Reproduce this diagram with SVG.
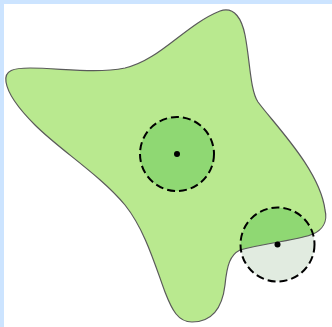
<svg xmlns="http://www.w3.org/2000/svg" width="332" height="327" viewBox="0 0 332 327">
<style>
.zone{fill:none;stroke:#000;stroke-width:2;stroke-dasharray:8,4}
.dot{fill:#000}
</style>
<defs>
<path id="blob" d="M 6,82 C 4,70 14,68 30,68 C 60,68 95,74 125,68 C 160,60 185,25 220,11 C 235,6 242,20 245,35 C 250,60 250,90 258,102 C 275,125 320,170 325,210 C 328,222 322,230 313,234 C 300,240 270,242 240,250 C 230,255 227,265 225,285 C 222,310 210,322 192,322 C 178,322 172,310 165,292 C 155,265 145,230 125,205 C 100,175 60,150 35,125 C 20,110 8,95 6,82 Z"/>
<clipPath id="clipBlob"><use href="#blob"/></clipPath>
</defs>
<rect x="0" y="0" width="332" height="327" fill="#cce4ff"/>
<rect x="4" y="4" width="328" height="323" fill="#fff"/>
<g id="region">
<use href="#blob" fill="#b9e98f"/>
</g>
<g id="circle1">
<circle cx="177" cy="154" r="37" fill="#8fd873"/>
<circle cx="177" cy="154" r="37" class="zone"/>
<circle cx="177" cy="154" r="3" class="dot"/>
</g>
<g id="circle2">
<circle cx="277.5" cy="244.5" r="37" fill="#e1ebe0"/>
<circle cx="277.5" cy="244.5" r="37" fill="#8fd873" clip-path="url(#clipBlob)"/>
</g>
<use href="#blob" fill="none" stroke="#5a5a5a" stroke-width="1.2"/>
<g id="circle2-outline">
<circle cx="277.5" cy="244.5" r="37" class="zone"/>
<circle cx="277.5" cy="244.5" r="3" class="dot"/>
</g>
</svg>
